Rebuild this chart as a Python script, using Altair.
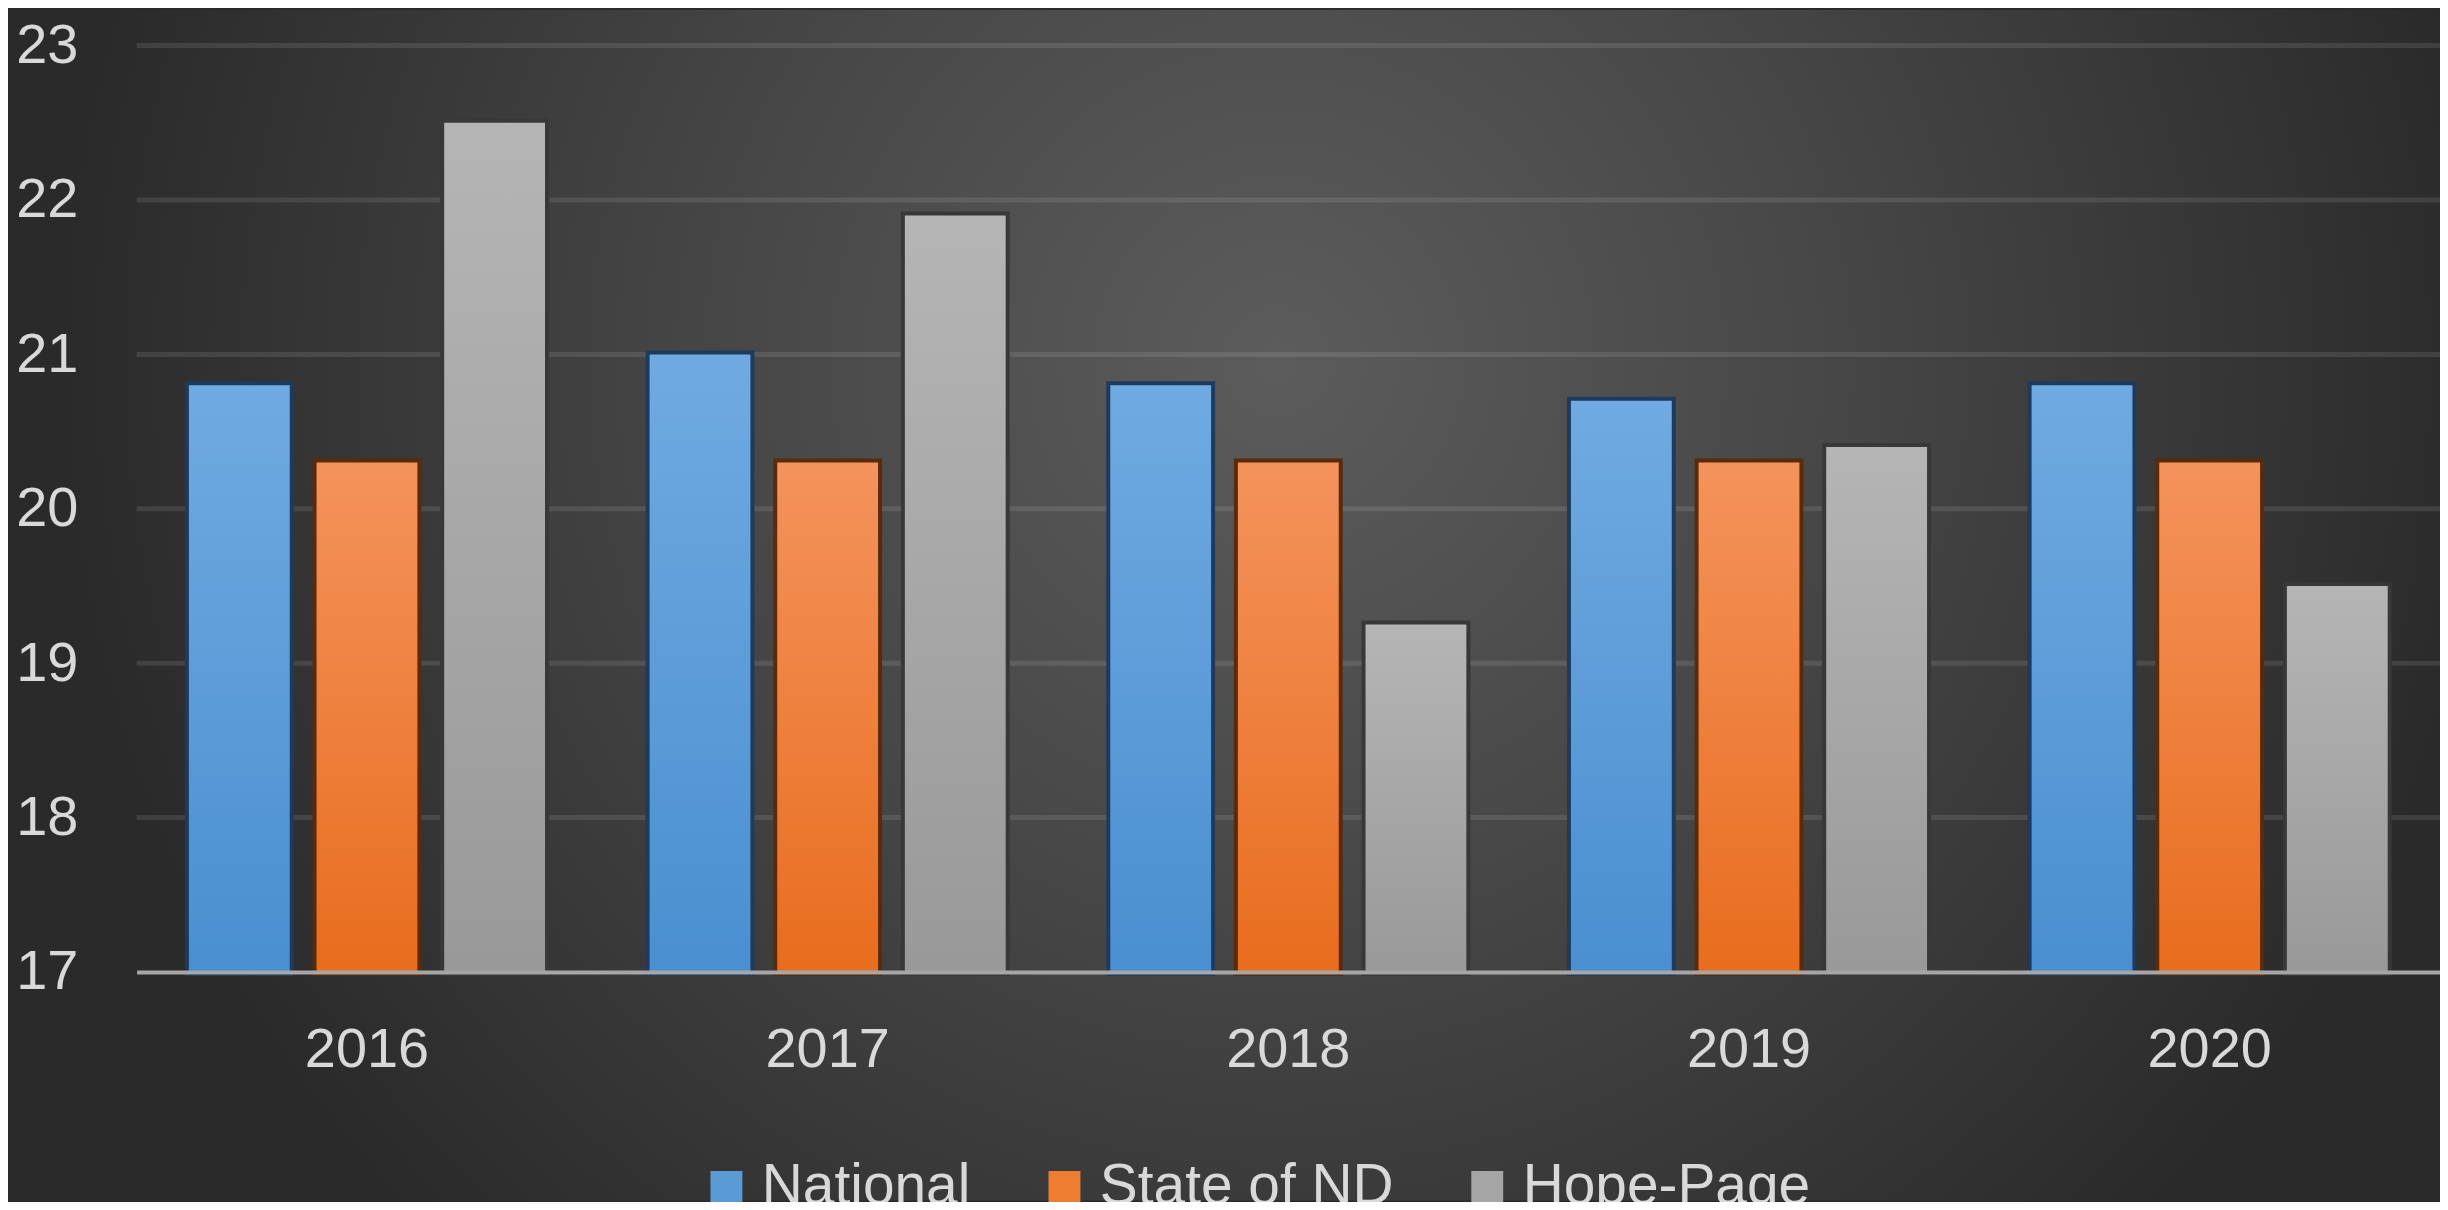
import altair as alt
import pandas as pd

# ---- data ----
years = ["2016", "2017", "2018", "2019", "2020"]
series = ["National", "State of ND", "Hope-Page"]
national = [20.8, 21.0, 20.8, 20.7, 20.8]
state_nd = [20.3, 20.3, 20.3, 20.3, 20.3]
hope_page = [22.5, 21.9, 19.25, 20.4, 19.5]
y_ticks = [17, 18, 19, 20, 21, 22, 23]
grid_values = [18, 19, 20, 21, 22, 23]

# ---- styles ----
base_colors = ["#5b9bd5", "#ed7d31", "#a5a5a5"]
edge_colors = ["#1e3a5c", "#5a2a0c", "#383838"]
grad_colors = {
    "National": ("#70aae1", "#4a8fd0"),
    "State of ND": ("#f4935c", "#e86d1e"),
    "Hope-Page": ("#b5b5b5", "#999999"),
}
FONT = "Liberation Sans"
TXT = "#d9d9d9"

rows = []
for i, yr in enumerate(years):
    for s, vals in zip(series, [national, state_nd, hope_page]):
        rows.append({"Year": yr, "Series": s, "Value": vals[i]})
df = pd.DataFrame(rows)

W, H = 2310, 929
PAD = {"left": 129, "top": 36, "right": 0, "bottom": 229}

y_scale = alt.Scale(domain=[17, 23], nice=False, zero=False)

x_enc = alt.X(
    "Year:N",
    sort=years,
    scale=alt.Scale(paddingInner=0.227, paddingOuter=0.1135),
    axis=alt.Axis(
        title=None, labelAngle=0, labelFontSize=56, labelColor=TXT, labelFont=FONT,
        labelPadding=78, labelBaseline="middle", ticks=False, tickSize=0,
        domain=True, domainColor="#a6a6a6", domainWidth=4, grid=False, zindex=1,
    ),
)
xoff_enc = alt.XOffset(
    "Series:N", sort=series,
    scale=alt.Scale(domain=series, paddingInner=0.21, paddingOuter=0),
)
y_enc = alt.Y(
    "Value:Q",
    scale=y_scale,
    axis=alt.Axis(
        title=None, values=y_ticks, labelFontSize=56, labelColor=TXT, labelFont=FONT,
        labelPadding=59, grid=False, domain=False, ticks=False, tickSize=0,
        labelBaseline="middle", zindex=1,
    ),
)
y2_enc = alt.Y2(datum=17)

background = alt.Chart(pd.DataFrame({"k": [0]})).mark_rect(
    color=alt.Gradient(
        gradient="radial",
        stops=[alt.GradientStop(color="#5c5c5c", offset=0),
               alt.GradientStop(color="#474747", offset=0.45),
               alt.GradientStop(color="#2a2a2a", offset=1)],
        x1=0.52, y1=0.40, r1=0, x2=0.52, y2=0.40, r2=0.5,
    )
).encode(
    x=alt.value(-PAD["left"]), x2=alt.value(W + 10),
    y=alt.value(-PAD["top"]), y2=alt.value(H + PAD["bottom"]),
)

grid = alt.Chart(pd.DataFrame({"Value": grid_values})).mark_rule(
    color="#ffffff", opacity=0.1, strokeWidth=5
).encode(y=y_enc)

edges = alt.Chart(df).mark_bar(strokeWidth=8).encode(
    x=x_enc, xOffset=xoff_enc, y=y_enc, y2=y2_enc,
    color=alt.Color(
        "Series:N", sort=series,
        scale=alt.Scale(domain=series, range=base_colors),
        legend=alt.Legend(
            title=None, orient="none", legendX=563, legendY=1116,
            direction="horizontal", symbolType="square", symbolSize=1024,
            symbolStrokeWidth=0, labelFontSize=57, labelColor=TXT, labelFont=FONT,
            labelOffset=7, columnPadding=65, padding=0, labelLimit=0,
        ),
    ),
    stroke=alt.Stroke("Series:N", scale=alt.Scale(domain=series, range=edge_colors), legend=None),
)

grad_layers = []
for s in series:
    top, bottom = grad_colors[s]
    grad_layers.append(
        alt.Chart(df).transform_filter(alt.datum.Series == s).mark_bar(
            color=alt.Gradient(
                gradient="linear",
                stops=[alt.GradientStop(color=top, offset=0),
                       alt.GradientStop(color=bottom, offset=1)],
                x1=0, x2=0, y1=0, y2=1,
            )
        ).encode(x=x_enc, xOffset=xoff_enc, y=y_enc, y2=y2_enc)
    )

chart = alt.layer(background, grid, edges, *grad_layers).properties(
    width=W, height=H, padding=PAD,
    autosize=alt.AutoSizeParams(type="none"),
    background="#2a2a2a",
).configure_view(stroke=None)

chart.save("out.html", embed_options={"renderer": "svg", "actions": False})
